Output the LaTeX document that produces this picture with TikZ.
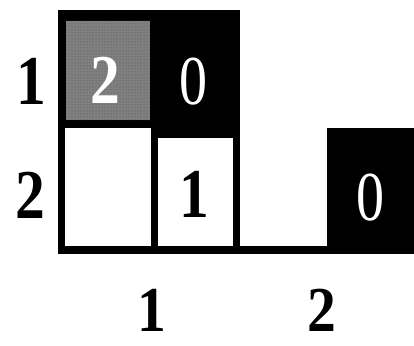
\documentclass[tikz,border=0pt]{standalone}
\usepackage{fontspec}
\setmainfont{Liberation Serif}
\usetikzlibrary{patterns}

\tikzset{
  digit/.style={font=\fontsize{70}{70}\selectfont\bfseries, inner sep=0pt, text depth=0pt, xscale=0.85},
  coldigit/.style={font=\fontsize{64}{64}\selectfont\bfseries, inner sep=0pt, text depth=0pt, xscale=0.9},
  thindigit/.style={font=\fontsize{70}{70}\selectfont, inner sep=0pt, text depth=0pt, text=white, xscale=0.8}
}

\begin{document}
\begin{tikzpicture}[x=1pt, y=-1pt]
\useasboundingbox (0,0) rectangle (414,345);
% tabla: bloque negro con celdas
\fill[black] (58,10) rectangle (240,254);
\fill[black] (58,246) rectangle (414,254);
\fill[black] (327,128) rectangle (414,254);
% celda (1,1) punteada
\fill[gray] (66,21) rectangle (150,120);
\fill[pattern=dots, pattern color=black!70] (66,21) rectangle (150,120);
% celdas blancas
\fill[white] (65,128) rectangle (151,246);
\fill[white] (158,138) rectangle (233,246);
% valores
\node[digit, text=white] (v11) at (105,80) {2};
\node[thindigit] (v12) at (193,81) {0};
\node[digit] (v22) at (194,194) {1};
\node[thindigit] (v23) at (370,197) {0};
% filas y columnas
\node[digit] (r1) at (31,81) {1};
\node[digit] (r2) at (30,195) {2};
\node[coldigit] (c1) at (152,310) {1};
\node[coldigit] (c2) at (322,310) {2};
\end{tikzpicture}
\end{document}
